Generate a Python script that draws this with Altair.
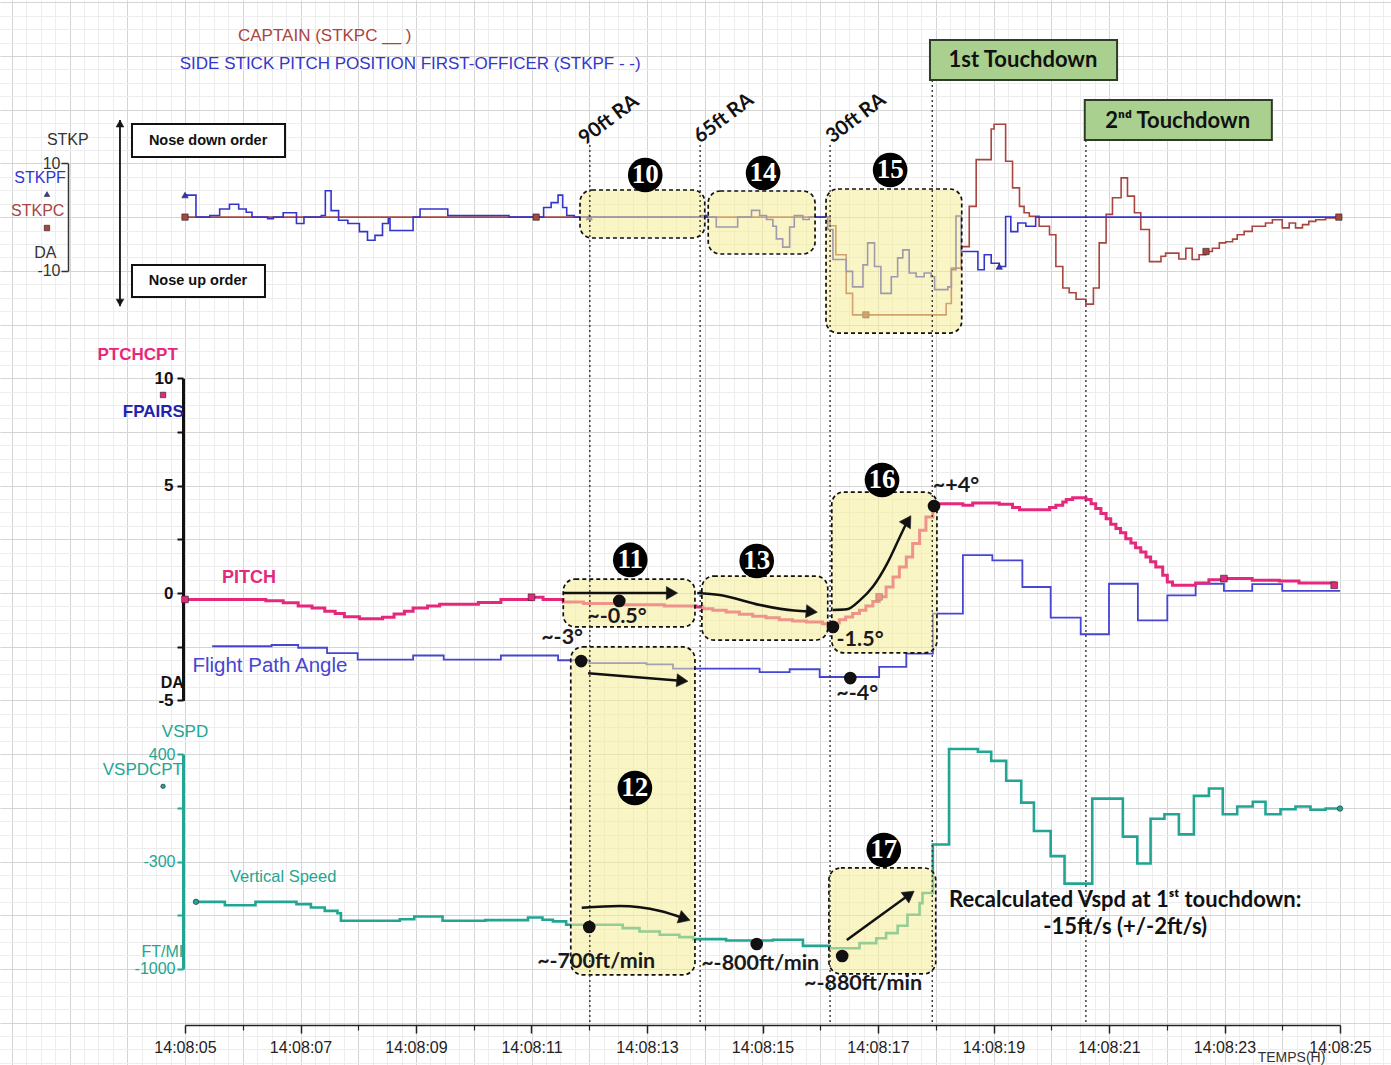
import altair as alt
import pandas as pd

# ------------------------------------------------------------------ data
TIME_LABELS = ["14:08:05", "14:08:07", "14:08:09", "14:08:11", "14:08:13", "14:08:15",
               "14:08:17", "14:08:19", "14:08:21", "14:08:23", "14:08:25"]

# side stick pitch, first officer (t in s after 14:08:05, value)
STKPF = [(0.00, 4.1), (0.19, 0), (0.43, 0.3), (0.60, 1.5), (0.77, 2.4), (0.93, 1.5), (1.06, 0.9),
         (1.16, 0), (1.43, -0.3), (1.53, 0), (1.70, 0.8), (1.93, -1.2), (2.06, 0), (2.36, 0.3),
         (2.43, 4.9), (2.53, 1.2), (2.66, -0.6), (2.82, -1.2), (3.02, -2.7), (3.16, -4.3),
         (3.29, -3.4), (3.42, -1.2), (3.52, -0.3), (3.55, -2.5), (3.95, 0), (4.07, 1.5),
         (4.55, 0.3), (5.61, 0), (6.21, 1.8), (6.34, 2.7), (6.46, 4.1), (6.54, 1.8), (6.61, 0.3),
         (6.74, 0), (8.95, 0.3), (9.03, 0), (9.20, -1.84), (9.57, 0), (9.81, 1.25), (9.95, 0.31),
         (10.07, -0.44), (10.18, -1.7), (10.24, -4.05), (10.35, -5.6), (10.47, -1.84),
         (10.55, 0.31), (10.70, -0.44), (10.81, 0), (11.13, -2.3), (11.22, -7.9), (11.45, -10.1),
         (11.56, -13.0), (11.74, -8.9), (11.82, -4.8), (11.94, -9.2), (12.05, -14.2),
         (12.23, -11.1), (12.34, -7.6), (12.43, -6.1), (12.54, -10.4), (12.66, -11.1),
         (12.80, -10.4), (12.92, -11.1), (12.98, -13.5), (13.21, -13.0), (13.27, -9.8),
         (13.35, 0.2), (13.44, -6.4), (13.73, -9.8), (13.84, -7.0), (13.96, -8.6), (14.10, -9.2),
         (14.21, 0.1), (14.30, -2.7), (14.42, -1.1), (14.56, -1.7), (14.73, 0), (20.0, 0)]

# side stick pitch, captain
STKPC = [(0.0, 0), (11.17, -1.6), (11.27, -7.0), (11.45, -14.2), (11.56, -18.2), (13.18, -16.1),
         (13.27, -9.5), (13.44, -5.5), (13.58, 2.0), (13.70, 10.7), (13.96, 16.4), (14.01, 17.3),
         (14.21, 10.4), (14.33, 5.45), (14.45, 2.0), (14.53, 0.8), (14.62, 0.15), (14.79, -1.7),
         (14.97, -3.3), (15.08, -9.2), (15.20, -13.2), (15.31, -14.1), (15.43, -15.3),
         (15.60, -16.2), (15.73, -13.2), (15.83, -4.8), (15.95, 0.5), (16.06, 3.6), (16.21, 7.3),
         (16.32, 3.9), (16.44, 0.8), (16.55, -2.3), (16.70, -8.3), (16.90, -7.3), (16.98, -6.7),
         (17.21, -7.8), (17.33, -5.8), (17.44, -7.9), (17.56, -7.0), (17.68, -6.4), (17.79, -5.8),
         (17.91, -4.8), (18.02, -4.6), (18.14, -4.1), (18.22, -3.3), (18.34, -2.65), (18.48, -1.7),
         (18.71, -1.1), (18.83, -0.5), (19.00, -2.0), (19.12, -1.1), (19.23, -2.0), (19.35, -1.4),
         (19.46, -0.8), (19.58, -0.5), (19.75, -0.15), (19.98, 0)]

PITCH = [(0.0, -0.3), (1.4, -0.36), (1.7, -0.45), (1.96, -0.6), (2.2, -0.7), (2.42, -0.85),
         (2.6, -0.95), (2.76, -1.1), (3.02, -1.2), (3.42, -1.13), (3.62, -0.98), (3.8, -0.85),
         (3.95, -0.7), (4.2, -0.6), (4.41, -0.52), (5.08, -0.44), (5.47, -0.3), (6.0, -0.2),
         (6.2, -0.3), (6.55, -0.42), (6.9, -0.49), (7.47, -0.55), (8.3, -0.6), (8.85, -0.65),
         (8.97, -0.73), (9.14, -0.80), (9.37, -0.88), (9.60, -0.99), (9.83, -1.08), (10.06, -1.15),
         (10.29, -1.24), (10.52, -1.30), (10.76, -1.35), (11.04, -1.43), (11.16, -1.50),
         (11.24, -1.40), (11.33, -1.24), (11.44, -1.12), (11.56, -0.96), (11.68, -0.8),
         (11.79, -0.6), (11.91, -0.4), (12.02, -0.18), (12.14, 0.28), (12.26, 0.74), (12.37, 1.21),
         (12.49, 1.68), (12.60, 2.30), (12.72, 2.92), (12.83, 3.54), (12.95, 4.01), (13.0, 4.16),
         (13.47, 4.08), (13.64, 4.19), (14.10, 4.13), (14.33, 3.98), (14.45, 3.88), (14.97, 3.98),
         (15.08, 4.08), (15.20, 4.24), (15.26, 4.35), (15.37, 4.43), (15.54, 4.43), (15.60, 4.35),
         (15.69, 4.16), (15.77, 3.93), (15.86, 3.70), (15.95, 3.46), (16.03, 3.20), (16.12, 3.0),
         (16.20, 2.80), (16.29, 2.53), (16.38, 2.33), (16.46, 2.11), (16.55, 1.91), (16.64, 1.68),
         (16.72, 1.45), (16.81, 1.21), (16.93, 0.83), (17.01, 0.51), (17.10, 0.36), (17.50, 0.47),
         (17.73, 0.62), (17.99, 0.67), (18.48, 0.59), (18.95, 0.56), (19.29, 0.47), (19.90, 0.36)]

FPA = [(0.47, -2.48), (1.50, -2.42), (1.96, -2.55), (2.46, -2.80), (2.99, -3.10), (3.95, -2.91),
       (4.48, -3.10), (5.47, -2.91), (6.46, -3.13), (7.00, -3.26), (7.99, -3.32), (8.45, -3.52),
       (9.95, -3.68), (10.47, -3.55), (10.99, -3.91), (12.02, -3.44), (12.49, -2.82),
       (12.95, -0.96), (13.47, 1.76), (13.98, 1.52), (14.50, 0.28), (14.99, -1.15), (15.51, -1.92),
       (16.00, 0.43), (16.50, -1.27), (17.01, -0.11), (17.50, 0.43), (17.99, 0.10), (18.48, 0.41),
       (19.00, 0.10), (20.0, 0.10)]

VSPD = [(0.19, -563), (0.69, -585), (1.22, -563), (1.93, -578), (2.18, -600), (2.42, -622),
        (2.64, -637), (2.70, -686), (3.72, -676), (3.97, -658), (4.46, -686), (5.20, -682),
        (5.94, -665), (6.19, -680), (6.37, -690), (6.60, -712), (7.58, -734), (7.87, -756),
        (8.22, -777), (8.56, -793), (8.80, -806), (9.37, -815), (10.18, -810), (10.70, -850),
        (11.16, -865), (11.68, -832), (11.97, -800), (12.14, -767), (12.34, -719), (12.51, -647),
        (12.72, -571), (12.77, -505), (12.95, -189), (13.23, 433), (13.73, 415), (13.96, 356),
        (14.22, 226), (14.48, 84), (14.70, -101), (14.99, -265), (15.23, -444), (15.71, 110),
        (16.24, -138), (16.49, -313), (16.72, -21), (16.96, 8), (17.21, -123), (17.47, 128),
        (17.73, 176), (17.97, 8), (18.22, 58), (18.49, 89), (18.71, 8), (18.97, 41), (19.23, 58),
        (19.49, 37), (19.75, 45), (20.0, 45)]

STKPC_MARKS = [(0.0, 0), (6.08, 0), (11.79, -18.2), (17.68, -6.4), (19.98, 0)]
STKPF_MARKS = [(0.0, 4.1), (7.0, 0), (14.1, -9.2)]
PITCH_MARKS = [(0.0, -0.3), (6.0, -0.2), (12.02, -0.18), (17.99, 0.67), (19.9, 0.36)]
VSPD_MARKS = [(0.19, -563), (20.0, 45)]

EVENT_LINES = [(7.01, 145), (8.92, 145), (11.17, 145), (12.94, 80), (15.60, 140)]
RA_LABELS = [(7.34, 18.1, "90ft RA"), (9.33, 18.4, "65ft RA"), (11.62, 18.4, "30ft RA")]

# highlighted phases (panel, t0, t1, v0, v1)
BOXES = [("top", 6.84, 9.00, 5.05, -3.89), ("top", 9.06, 10.91, 4.86, -6.87),
         ("top", 11.10, 13.45, 5.23, -21.6), ("mid", 6.55, 8.83, 0.65, -1.58),
         ("mid", 8.95, 11.13, 0.79, -2.19), ("mid", 11.20, 13.02, 4.70, -2.79),
         ("mid", 6.68, 8.83, -2.51, -17.78), ("bot", 11.15, 13.00, -342, -1033)]
STEPS = [("top", 7.97, 7.84, "10"), ("top", 10.01, 8.21, "14"), ("top", 12.21, 8.77, "15"),
         ("mid", 7.71, 1.54, "11"), ("mid", 9.90, 1.49, "13"), ("mid", 12.07, 5.26, "16"),
         ("bot", 7.79, 179, "12"), ("bot", 12.10, -225, "17")]
DOTS = [("mid", 7.52, -0.37, 7.48, -1.12, "~-0.5°"), ("mid", 6.86, -3.17, 6.53, -2.09, "~-3°"),
        ("mid", 11.22, -1.58, 11.69, -2.19, "-1.5°"), ("mid", 12.97, 4.05, 13.35, 4.98, "~+4°"),
        ("mid", 11.52, -3.96, 11.64, -4.70, "~-4°"),
        ("bot", 7.00, -727, 7.12, -955, "~-700ft/min"), ("bot", 9.90, -838, 9.96, -968, "~-800ft/min"),
        ("bot", 11.38, -916, 11.74, -1098, "~-880ft/min")]
ARROWS = [("mid", [(6.55, 0.0), (8.40, 0.0)], 90),
          ("mid", [(8.87, 0.0), (9.26, -0.09), (9.96, -0.56), (10.55, -0.82), (10.82, -0.86)], 95),
          ("mid", [(11.22, -0.79), (11.46, -0.76), (11.69, -0.33), (11.91, 0.29), (12.16, 1.38),
                   (12.38, 2.62), (12.50, 3.30)], 32),
          ("mid", [(6.98, -3.74), (8.58, -4.08)], 95),
          ("bot", [(6.87, -601), (7.53, -590), (8.23, -623), (8.62, -668)], 108),
          ("bot", [(11.46, -812), (12.52, -522)], 54)]

# ------------------------------------------------------------------ layout
LEFT = 183
W = 1391 - LEFT
H = 1025
PX_S = 57.75
X0 = 185 - LEFT
G = 53.7
YZ = 593
PITCH_PX = G / 2.5

SANS = "Liberation Sans"
NOTE = "Lato"
SERIF = "Liberation Serif"
C_CPT = "#a8453f"
C_FO = "#3535cc"
C_PITCH = "#e5287c"
C_FPA = "#4646d2"
C_VS = "#22a693"


def lin(d, r):
    return alt.Scale(domain=d, range=r, nice=False, zero=False)


XS = lin([0, 20], [X0, X0 + 20 * PX_S])
YS = {"top": lin([-10, 10], [YZ - 6 * G, YZ - 8 * G]),
      "mid": lin([-5, 10], [YZ + 2 * G, YZ - 4 * G]),
      "bot": lin([-1000, 400], [YZ + 7 * G, YZ + 3 * G])}
XG = lin([(-LEFT - X0) / PX_S, (W - X0) / PX_S], [-LEFT, W])
YG = lin([(YZ - 1065) / PITCH_PX, YZ / PITCH_PX], [1065, 0])

ONE = pd.DataFrame({"t": [0.0], "v": [0.0]})


def xy(panel, xaxis=None, yaxis=None):
    return dict(x=alt.X("t:Q", scale=XS, axis=xaxis), y=alt.Y("v:Q", scale=YS[panel], axis=yaxis))


def grid_layer(xvals, yvals, color):
    return alt.Chart(ONE).mark_point(opacity=0).encode(
        x=alt.X("t:Q", scale=XG, axis=alt.Axis(orient="top", values=xvals, grid=True, gridColor=color,
                                                gridWidth=1, labels=False, ticks=False, domain=False,
                                                title=None)),
        y=alt.Y("v:Q", scale=YG, axis=alt.Axis(orient="left", values=yvals, grid=True, gridColor=color,
                                                gridWidth=1, labels=False, ticks=False, domain=False,
                                                title=None)))


def series(pairs, panel, color, width):
    df = pd.DataFrame(pairs, columns=["t", "v"])
    return alt.Chart(df).mark_line(interpolate="step-after", color=color, strokeWidth=width).encode(**xy(panel))


def marks(pairs, panel, shape, color, size, angle=0):
    df = pd.DataFrame(pairs, columns=["t", "v"])
    kw = dict(shape=shape, size=size, filled=True, color=color, opacity=1, stroke="#222", strokeWidth=0.6)
    if angle:
        kw["angle"] = angle
    return alt.Chart(df).mark_point(**kw).encode(**xy(panel))


def rect(panel, t0, t1, v0, v1, **style):
    df = pd.DataFrame({"t": [t0], "t2": [t1], "v": [v0], "v2": [v1]})
    return alt.Chart(df).mark_rect(**style).encode(
        x=alt.X("t:Q", scale=XS, axis=None), x2="t2:Q",
        y=alt.Y("v:Q", scale=YS[panel], axis=None), y2="v2:Q")


def text(panel, t, v, s, size, color="#111", weight="normal", font=SANS, align="center", angle=0):
    df = pd.DataFrame({"t": [t], "v": [v], "s": [s]})
    kw = dict(fontSize=size, color=color, fontWeight=weight, font=font, align=align, baseline="middle")
    if angle:
        kw["angle"] = angle
    return alt.Chart(df).mark_text(**kw).encode(text="s:N", **xy(panel))


layers = []

# background grid
XMIN = [-3.0 + 0.25 * k for k in range(96)]
XMAJ = list(range(-3, 21))
YMIN = [-21.875 + 0.625 * k for k in range(80)]
YMAJ = [-20 + 2.5 * k for k in range(20)]
layers.append(grid_layer(XMIN, YMIN, "#ededed"))
layers.append(grid_layer(XMAJ, YMAJ, "#d5d5d5"))

# axes
label_arr = "[" + ",".join("'%s'" % s for s in TIME_LABELS) + "]"
layers.append(alt.Chart(ONE).mark_point(opacity=0).encode(**xy("bot", xaxis=alt.Axis(
    orient="bottom", values=list(range(0, 21, 2)), labelExpr=label_arr + "[round(datum.value / 2)]",
    labelFlush=False, labelFont=SANS, labelFontSize=16, labelColor="#222", labelPadding=6,
    tickSize=8, tickColor="#222", tickWidth=1.5, domainColor="#222", domainWidth=1.5, grid=False,
    title=None))))
layers.append(alt.Chart(ONE).mark_point(opacity=0).encode(**xy("bot", xaxis=alt.Axis(
    orient="bottom", values=list(range(1, 20, 2)), labels=False, tickSize=5, tickColor="#222",
    tickWidth=1.2, domain=False, grid=False, title=None))))
layers.append(alt.Chart(ONE).mark_point(opacity=0).encode(**xy("top", yaxis=alt.Axis(
    orient="left", offset=115, values=[-10, 10], labelExpr="'' + datum.value", labelFont=SANS,
    labelFontSize=16, labelColor="#333", labelPadding=1, tickSize=7, tickColor="#333", tickWidth=1.5,
    domainColor="#333", domainWidth=1.5, grid=False, title=None))))
layers.append(alt.Chart(ONE).mark_point(opacity=0).encode(**xy("mid", yaxis=alt.Axis(
    orient="left", values=[-5, -2.5, 0, 2.5, 5, 7.5, 10],
    labelExpr="datum.value % 5 == 0 ? '' + datum.value : ''", labelFont=SANS, labelFontSize=17,
    labelFontWeight="bold", labelColor="#111", labelPadding=4, tickSize=6, tickColor="#111",
    tickWidth=2, domainColor="#111", domainWidth=3, grid=False, title=None))))
layers.append(alt.Chart(ONE).mark_point(opacity=0).encode(**xy("bot", yaxis=alt.Axis(
    orient="left", values=[-1000, -650, -300, 50, 400],
    labelExpr="indexof([400, -300, -1000], datum.value) >= 0 ? '' + datum.value : ''",
    labelFont=SANS, labelFontSize=16, labelColor=C_VS, labelPadding=2, tickSize=6, tickColor=C_VS,
    tickWidth=2, domainColor=C_VS, domainWidth=3, grid=False, title=None))))

# data series
layers.append(series(STKPC, "top", C_CPT, 1.6))
layers.append(series(STKPF, "top", C_FO, 1.6))
layers.append(series(FPA, "mid", C_FPA, 1.8))
layers.append(series(PITCH, "mid", C_PITCH, 3))
layers.append(series(VSPD, "bot", C_VS, 2.6))
layers.append(marks(STKPC_MARKS, "top", "square", C_CPT, 40))
layers.append(marks(STKPF_MARKS, "top", "triangle-up", C_FO, 40))
layers.append(marks(PITCH_MARKS, "mid", "square", C_PITCH, 45))
layers.append(marks(VSPD_MARKS, "bot", "circle", C_VS, 30))

# highlighted phases
for p, t0, t1, v0, v1 in BOXES:
    layers.append(rect(p, t0, t1, v0, v1, cornerRadius=12, fill="#f5ec95", fillOpacity=0.55,
                       stroke="#111", strokeWidth=1.7, strokeDash=[4, 3]))

# event lines
for t, top in EVENT_LINES:
    layers.append(alt.Chart(pd.DataFrame({"t": [t]})).mark_rule(
        color="#333", strokeWidth=1.4, strokeDash=[2, 3]).encode(
        x=alt.X("t:Q", scale=XS, axis=None), y=alt.value(top), y2=alt.value(H)))
for t, v, s in RA_LABELS:
    layers.append(text("top", t, v, s, 20, weight="bold", font=NOTE, angle=323))

# touchdown labels
layers.append(rect("top", 12.90, 16.14, 32.98, 25.53, fill="#a9d08e", stroke="#2e3b28", strokeWidth=2))
layers.append(text("top", 14.51, 29.25, "1st Touchdown", 22, weight="bold", font=NOTE))
layers.append(rect("top", 15.58, 18.82, 21.8, 14.36, fill="#a9d08e", stroke="#2e3b28", strokeWidth=2))
layers.append(text("top", 17.19, 17.9, "2ⁿᵈ Touchdown", 22, weight="bold", font=NOTE))

# nose up / down explanation
layers.append(alt.Chart(pd.DataFrame({"t": [-1.126], "v": [18.1], "v2": [-16.6]})).mark_rule(
    color="#111", strokeWidth=1.8).encode(x=alt.X("t:Q", scale=XS, axis=None),
                                           y=alt.Y("v:Q", scale=YS["top"], axis=None), y2="v2:Q"))
layers.append(marks([(-1.126, 17.4)], "top", "triangle-up", "#111", 60))
layers.append(marks([(-1.126, -15.9)], "top", "triangle-down", "#111", 60))
layers.append(rect("top", -0.918, 1.732, 17.32, 11.19, fill="white", stroke="#111", strokeWidth=2))
layers.append(text("top", 0.40, 14.15, "Nose down order", 14.5, weight="bold"))
layers.append(rect("top", -0.918, 1.385, -8.92, -14.9, fill="white", stroke="#111", strokeWidth=2))
layers.append(text("top", 0.225, -11.9, "Nose up order", 14.5, weight="bold"))

# legend-like labels
layers.append(text("top", 2.42, 33.73, "CAPTAIN (STKPC __ )", 17, color=C_CPT))
layers.append(text("top", 3.90, 28.5, "SIDE STICK PITCH POSITION FIRST-OFFICER (STKPF - -)", 17, color=C_FO))
layers.append(text("top", -2.03, 14.36, "STKP", 16, color="#333"))
layers.append(text("top", -2.51, 7.2, "STKPF", 16, color=C_FO))
layers.append(marks([(-2.39, 4.3)], "top", "triangle-up", C_FO, 30))
layers.append(text("top", -2.55, 1.14, "STKPC", 16, color=C_CPT))
layers.append(marks([(-2.39, -2.03)], "top", "square", C_CPT, 30))
layers.append(text("top", -2.42, -6.69, "DA", 16, color="#333"))
layers.append(text("mid", -0.82, 11.08, "PTCHCPT", 17, color=C_PITCH, weight="bold"))
layers.append(marks([(-0.38, 9.22)], "mid", "square", C_PITCH, 30))
layers.append(text("mid", -0.02, 8.43, "FPAIRS", 17, color="#2222b0", weight="bold", align="right"))
layers.append(text("mid", -0.02, -4.19, "DA", 16, weight="bold", align="right"))
layers.append(text("mid", 1.11, 0.70, "PITCH", 18, color=C_PITCH, weight="bold"))
layers.append(text("mid", 1.47, -3.40, "Flight Path Angle", 20.5, color=C_FPA))
layers.append(text("bot", 0.0, 544, "VSPD", 17, color=C_VS))
layers.append(text("bot", -0.73, 296, "VSPDCPT", 17, color=C_VS))
layers.append(marks([(-0.38, 190)], "bot", "circle", C_VS, 20))
layers.append(text("bot", 1.70, -400, "Vertical Speed", 16.5, color=C_VS))
layers.append(text("bot", -0.03, -888, "FT/MI", 16, color=C_VS, align="right"))
layers.append(text("bot", 19.16, -1583, "TEMPS(H)", 14, color="#333"))

# arrows
for p, pts, ang in ARROWS:
    df = pd.DataFrame(pts, columns=["t", "v"])
    layers.append(alt.Chart(df).mark_line(color="#111", strokeWidth=2.5, interpolate="monotone").encode(**xy(p)))
    layers.append(marks([pts[-1]], p, "triangle", "#111", 170, angle=ang))

# value dots and labels
for p, t, v, lt, lv, s in DOTS:
    layers.append(alt.Chart(pd.DataFrame({"t": [t], "v": [v]})).mark_circle(
        size=160, color="#111", opacity=1).encode(**xy(p)))
    layers.append(text(p, lt, lv, s, 21.5, color="#1a1a1a", weight="bold", font=NOTE))

# numbered steps
for p, t, v, s in STEPS:
    layers.append(alt.Chart(pd.DataFrame({"t": [t], "v": [v]})).mark_circle(
        size=1200, color="#000", opacity=1).encode(**xy(p)))
    layers.append(text(p, t, v, s, 27, color="white", weight="bold", font=SERIF))

layers.append(text("bot", 16.28, -551, "Recalculated Vspd at 1ˢᵗ touchdown:", 22, weight="bold", font=NOTE))
layers.append(text("bot", 16.28, -727, "-15ft/s (+/-2ft/s)", 22, weight="bold", font=NOTE))

chart = alt.layer(*layers).resolve_scale(x="independent", y="independent").properties(
    width=W, height=H, background="white",
    padding={"left": LEFT, "top": 0, "right": 0, "bottom": 1065 - H},
    autosize=alt.AutoSizeParams(type="none"),
).configure_view(strokeWidth=0)

chart.save("out.html", embed_options={"renderer": "svg", "actions": False})
